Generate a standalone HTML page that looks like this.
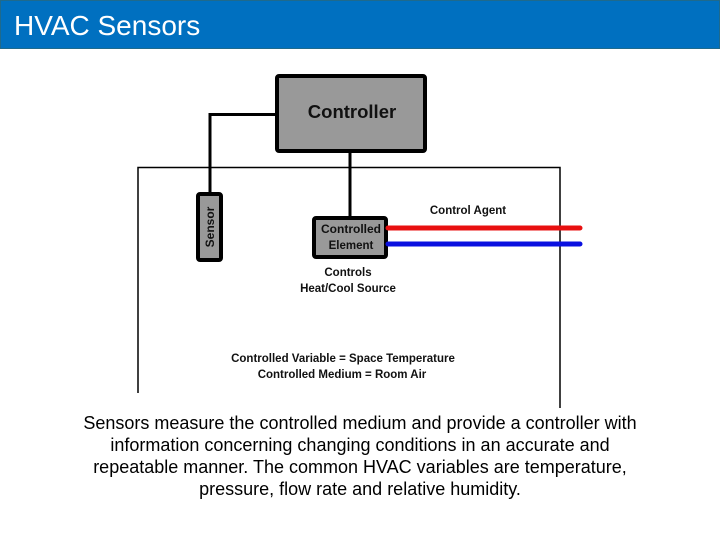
<!DOCTYPE html>
<html><head><meta charset="utf-8"><style>
body{margin:0;width:720px;height:540px;background:#fff;position:relative;overflow:hidden;font-family:"Liberation Sans",sans-serif}
.hdr{position:absolute;left:0;top:0;width:718px;height:47px;background:#0070c0;border:1px solid #1f6a8c}
.hdr span{position:absolute;left:13px;top:9px;color:#fff;font-size:28px}
.p{position:absolute;left:0;width:720px;top:412px;text-align:center;font-size:18px;line-height:22px;color:#000;white-space:nowrap}
</style></head><body>
<div class="hdr"><span>HVAC Sensors</span></div>
<svg width="720" height="540" style="position:absolute;left:0;top:0">
<g fill="none" stroke="#000">
<path d="M138 393 V167.5 H560 V408" stroke-width="1.5"/>
<path d="M210 192 V114.5 H276" stroke-width="3"/>
<path d="M350 153 V216" stroke-width="3"/>
</g>
<rect x="277" y="76" width="148" height="75" fill="#999" stroke="#000" stroke-width="4" rx="2"/>
<rect x="198" y="194" width="23" height="66" fill="#999" stroke="#000" stroke-width="4" rx="2"/>
<rect x="314" y="218" width="72" height="39" fill="#999" stroke="#000" stroke-width="4" rx="2"/>
<line x1="388" y1="228" x2="580" y2="228" stroke="#e81010" stroke-width="5" stroke-linecap="round"/>
<line x1="388" y1="244" x2="580" y2="244" stroke="#0a10e0" stroke-width="5" stroke-linecap="round"/>
<g font-family="Liberation Sans,sans-serif" font-weight="bold" fill="#111" text-anchor="middle">
<text x="352" y="118" font-size="18.5">Controller</text>
<text x="351" y="233" font-size="12">Controlled</text>
<text x="351" y="249" font-size="11.5">Element</text>
<text x="468" y="214" font-size="11.5">Control Agent</text>
<text x="348" y="276" font-size="11.5">Controls</text>
<text x="348" y="292" font-size="11.5">Heat/Cool Source</text>
<text x="343" y="362" font-size="11.5">Controlled Variable = Space Temperature</text>
<text x="342" y="378" font-size="11.5">Controlled Medium = Room Air</text>
<text transform="translate(214,227) rotate(-90)" font-size="12">Sensor</text>
</g>
</svg>
<div class="p">Sensors measure the controlled medium and provide a controller with<br>information concerning changing conditions in an accurate and<br>repeatable manner. The common HVAC variables are temperature,<br>pressure, flow rate and relative humidity.</div>
</body></html>
